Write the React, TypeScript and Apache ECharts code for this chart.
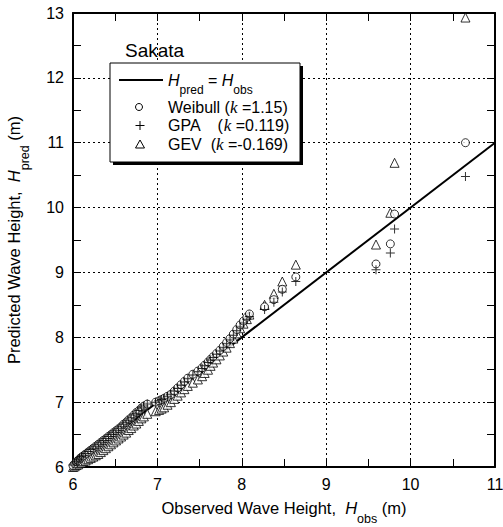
import React, { useEffect, useRef } from "react";
import * as echarts from "echarts";

const observed = [
  6.0, 6.02, 6.04, 6.06, 6.08, 6.1, 6.12, 6.15, 6.18, 6.21, 6.24, 6.27, 6.3, 6.33, 6.36, 6.39,
  6.42, 6.45, 6.48, 6.51, 6.54, 6.57, 6.6, 6.63, 6.66, 6.69, 6.72, 6.75, 6.78, 6.81, 6.84, 6.88,
  6.98, 7.02, 7.05, 7.08, 7.12, 7.16, 7.2, 7.24, 7.28, 7.32, 7.36, 7.42, 7.48, 7.53, 7.56, 7.6,
  7.63, 7.66, 7.7, 7.74, 7.78, 7.82, 7.86, 7.9, 7.94, 7.98, 8.02, 8.06, 8.09, 8.27, 8.38, 8.48,
  8.64, 9.59, 9.76, 9.81, 10.65,
];
const weibull = [
  6.02, 6.05, 6.08, 6.1, 6.13, 6.15, 6.17, 6.2, 6.23, 6.26, 6.29, 6.32, 6.35, 6.38, 6.41, 6.44,
  6.47, 6.5, 6.53, 6.56, 6.59, 6.62, 6.66, 6.69, 6.73, 6.76, 6.8, 6.84, 6.87, 6.91, 6.94, 6.97,
  7.0, 7.02, 7.04, 7.06, 7.09, 7.12, 7.17, 7.22, 7.27, 7.32, 7.37, 7.43, 7.48, 7.53, 7.57, 7.62,
  7.66, 7.7, 7.75, 7.8, 7.86, 7.92, 7.98, 8.05, 8.12, 8.19, 8.25, 8.31, 8.36, 8.47, 8.58, 8.74,
  8.93, 9.13, 9.44, 9.9, 11.0,
];
const gpa = [
  6.03, 6.06, 6.09, 6.11, 6.14, 6.16, 6.18, 6.21, 6.24, 6.27, 6.29, 6.32, 6.35, 6.38, 6.41, 6.44,
  6.47, 6.5, 6.53, 6.56, 6.59, 6.62, 6.66, 6.69, 6.72, 6.76, 6.8, 6.83, 6.87, 6.91, 6.94, 6.97,
  7.0, 7.02, 7.04, 7.06, 7.09, 7.12, 7.17, 7.21, 7.26, 7.31, 7.36, 7.42, 7.47, 7.52, 7.56, 7.61,
  7.65, 7.69, 7.74, 7.79, 7.84, 7.9, 7.96, 8.03, 8.1, 8.16, 8.22, 8.28, 8.32, 8.43, 8.54, 8.7,
  8.86, 9.04, 9.3, 9.67, 10.48,
];
const gev = [
  6.0, 6.01, 6.03, 6.04, 6.06, 6.07, 6.09, 6.1, 6.12, 6.14, 6.16, 6.18, 6.2, 6.23, 6.26, 6.29,
  6.32, 6.35, 6.38, 6.41, 6.44, 6.47, 6.5, 6.53, 6.57, 6.6, 6.64, 6.67, 6.71, 6.75, 6.78, 6.82,
  6.86, 6.88, 6.9, 6.92, 6.96, 7.0, 7.05, 7.1, 7.15, 7.2, 7.25, 7.3, 7.35, 7.4, 7.45, 7.5,
  7.56, 7.61, 7.66, 7.72, 7.78, 7.84, 7.91, 7.98, 8.06, 8.14, 8.21, 8.28, 8.35, 8.5, 8.67, 8.86,
  9.12, 9.43, 9.92, 10.69, 12.93,
];
const equalityLine = [6, 11];

const FONT = "Liberation Sans, Arial, sans-serif";

function pairs(ys: number[]) {
  return observed.map((x, i) => [x, ys[i]]);
}

export default function App() {
  const ref = useRef<HTMLDivElement>(null);
  useEffect(() => {
    const chart = echarts.init(ref.current!, null, { renderer: "svg" });
    const tickStyle = { show: true, inside: true, length: 8, lineStyle: { color: "#000", width: 1 } };
    const minor = { show: true, splitNumber: 2, length: 8, lineStyle: { color: "#000", width: 1 } };
    const split = { show: true, lineStyle: { color: "#000", width: 1, type: [2, 3] as any } };
    const axisLine = { show: true, onZero: false, lineStyle: { color: "#000", width: 2 } };
    const plusPath = "path://M-0.5,-4.5h1v4h4v1h-4v4h-1v-4h-4v-1h4z";
    const nameRich = {
      a: { fontSize: 16.5, fontFamily: FONT, color: "#000" },
      i: { fontSize: 16.5, fontFamily: FONT, fontStyle: "italic", color: "#000" },
      s: { fontSize: 12.5, fontFamily: FONT, color: "#000", padding: [22, 0, 0, 0] },
    };
    chart.setOption({
      animation: false,
      grid: { left: 73, right: 8, top: 13, bottom: 60, containLabel: false, outerBoundsMode: "none" },
      xAxis: [
        {
          type: "value", min: 6, max: 11, interval: 1, position: "bottom",
          axisLine, axisTick: tickStyle, minorTick: minor, splitLine: split,
          axisLabel: { color: "#000", fontSize: 16, fontFamily: FONT, margin: 9 },
          name: "{a|Observed Wave Height,  }{i|H}{s|obs}{a| (m)}",
          nameLocation: "middle", nameGap: 23,
          nameTextStyle: { color: "#000", rich: nameRich },
        },
        {
          type: "value", min: 6, max: 11, interval: 1, position: "top",
          axisLine, axisTick: tickStyle, minorTick: minor, splitLine: { show: false },
          axisLabel: { show: false },
        },
      ],
      yAxis: [
        {
          type: "value", min: 6, max: 13, interval: 1, position: "left",
          axisLine, axisTick: tickStyle, minorTick: minor, splitLine: split,
          axisLabel: { color: "#000", fontSize: 16, fontFamily: FONT, margin: 9 },
          name: "{a|Predicted Wave Height,  }{i|H}{s|pred}{a| (m)}",
          nameLocation: "middle", nameGap: 42, nameRotate: 90,
          nameTextStyle: { color: "#000", rich: nameRich },
        },
        {
          type: "value", min: 6, max: 13, interval: 1, position: "right",
          axisLine, axisTick: tickStyle, minorTick: minor, splitLine: { show: false },
          axisLabel: { show: false },
        },
      ],
      series: [
        {
          type: "line", data: equalityLine.map((v) => [v, v]), symbol: "none",
          lineStyle: { color: "#000", width: 2 }, z: 2,
        },
        {
          name: "GEV", type: "scatter", data: pairs(gev), symbol: "triangle", symbolSize: 9,
          itemStyle: { color: "#fff", borderColor: "#000", borderWidth: 1 }, z: 3,
        },
        {
          name: "Weibull", type: "scatter", data: pairs(weibull), symbol: "circle", symbolSize: 8,
          itemStyle: { color: "#fff", borderColor: "#000", borderWidth: 1 }, z: 4,
        },
        {
          name: "GPA", type: "scatter", data: pairs(gpa), symbol: plusPath, symbolSize: 9,
          itemStyle: { color: "#000", borderWidth: 0 }, z: 5,
        },
      ],
      graphic: [
        { type: "text", left: 125, top: 41, style: { text: "Sakata", font: `19px ${FONT}`, fill: "#000" } },
        { type: "rect", shape: { x: 113, y: 66, width: 190, height: 99 }, style: { fill: "#000" }, z: 10 },
        { type: "rect", shape: { x: 110, y: 63, width: 190, height: 99 }, style: { fill: "#fff", stroke: "#000", lineWidth: 1 }, z: 11 },
        { type: "line", shape: { x1: 119, y1: 80, x2: 163, y2: 80 }, style: { stroke: "#000", lineWidth: 2 }, z: 12 },
        {
          type: "text", x: 168, y: 80, z: 12,
          style: {
            text: "{i|H}{s|pred}{a| = }{i|H}{s|obs}",
            verticalAlign: "middle",
            rich: {
              a: { fontSize: 16, fontFamily: FONT, fill: "#000" },
              i: { fontSize: 16, fontFamily: FONT, fontStyle: "italic", fill: "#000" },
              s: { fontSize: 12, fontFamily: FONT, fill: "#000", padding: [20, 0, 0, 0] },
            },
          },
        },
        { type: "circle", shape: { cx: 139, cy: 107, r: 3.5 }, style: { fill: "#fff", stroke: "#000", lineWidth: 1 }, z: 12 },
        { type: "line", shape: { x1: 140, y1: 121, x2: 140, y2: 130 }, style: { stroke: "#000", lineWidth: 1 }, z: 12 },
        { type: "line", shape: { x1: 135.5, y1: 125.5, x2: 144.5, y2: 125.5 }, style: { stroke: "#000", lineWidth: 1 }, z: 12 },
        { type: "polygon", shape: { points: [[140, 140], [144.5, 148], [135.5, 148]] }, style: { fill: "#fff", stroke: "#000", lineWidth: 1 }, z: 12 },
        {
          type: "text", x: 168, y: 107, z: 12,
          style: {
            text: "{a|Weibull (}{k|k}{a| =1.15)}", verticalAlign: "middle",
            rich: {
              a: { fontSize: 16, fontFamily: FONT, fill: "#000" },
              k: { fontSize: 17, fontFamily: "Liberation Serif, serif", fontStyle: "italic", fill: "#000" },
            },
          },
        },
        {
          type: "text", x: 168, y: 125.5, z: 12,
          style: {
            text: "{a|GPA    (}{k|k}{a| =0.119)}", verticalAlign: "middle",
            rich: {
              a: { fontSize: 16, fontFamily: FONT, fill: "#000" },
              k: { fontSize: 17, fontFamily: "Liberation Serif, serif", fontStyle: "italic", fill: "#000" },
            },
          },
        },
        {
          type: "text", x: 168, y: 144, z: 12,
          style: {
            text: "{a|GEV  (}{k|k}{a| =-0.169)}", verticalAlign: "middle",
            rich: {
              a: { fontSize: 16, fontFamily: FONT, fill: "#000" },
              k: { fontSize: 17, fontFamily: "Liberation Serif, serif", fontStyle: "italic", fill: "#000" },
            },
          },
        },
      ],
    });
    return () => chart.dispose();
  }, []);
  return <div ref={ref} style={{ position: "fixed", left: 0, top: 0, width: 503, height: 527, background: "#fff" }} />;
}
